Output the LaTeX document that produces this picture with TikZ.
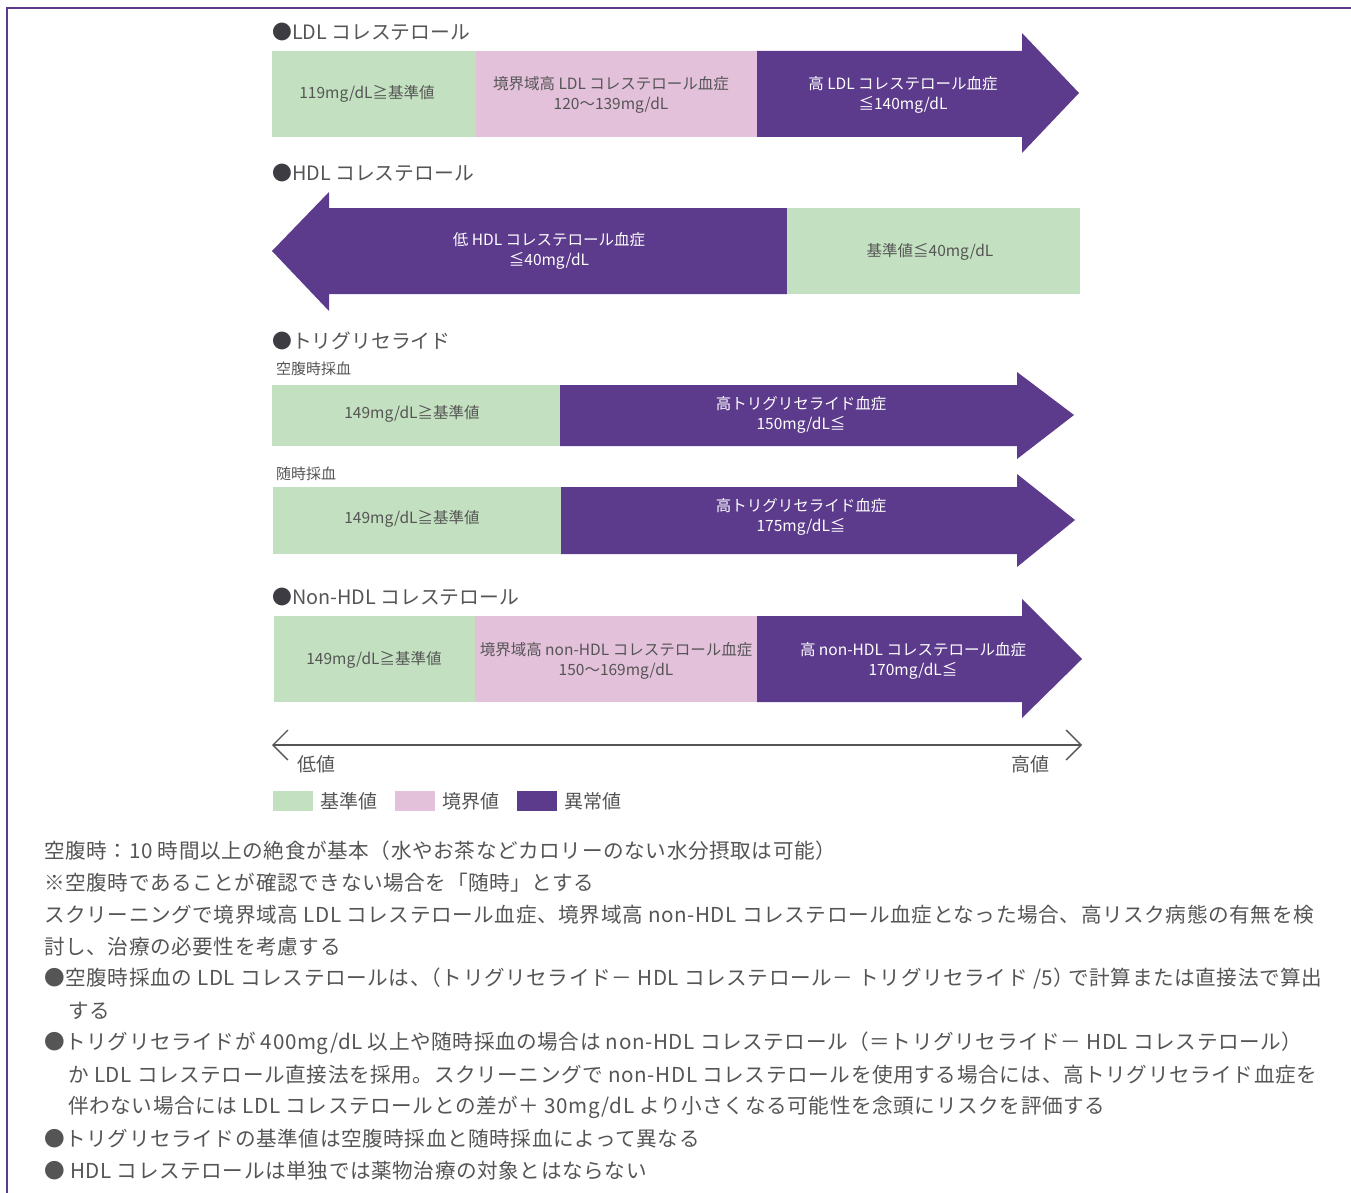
\documentclass[tikz,border=0pt]{standalone}
\usepackage{fontspec}
\setmainfont{Noto Sans CJK JP}
\newfontfamily\bodyfont{Noto Sans CJK JP}[LetterSpace=3]
\usetikzlibrary{arrows.meta}
\definecolor{okc}{HTML}{C3E1C0}
\definecolor{bdc}{HTML}{E3C1DB}
\definecolor{abc}{HTML}{5C3A8C}
\definecolor{txc}{HTML}{555555}
\definecolor{dotc}{HTML}{3C3C42}
\definecolor{framec}{HTML}{5C3A8C}
\tikzset{
  heading/.style={anchor=west, inner sep=0pt, text=txc, font=\fontsize{19.8}{23}\selectfont},
  sublabel/.style={anchor=west, inner sep=0pt, text=txc, font=\fontsize{15}{18}\selectfont},
  bartext/.style={align=center, inner sep=0pt, text=txc, font=\fontsize{15.5}{20.5}\selectfont},
  bartextw/.style={bartext, text=white},
  legendtext/.style={anchor=west, inner sep=0pt, text=txc, font=\fontsize{19}{22}\selectfont},
  bodyline/.style={anchor=west, inner sep=0pt, text=txc, font=\bodyfont\fontsize{20.6}{24}\selectfont},
  axisline/.style={draw=txc, line width=1.3pt, {Straight Barb[length=15pt,width=30pt]}-{Straight Barb[length=15pt,width=30pt]}},
}
\newcommand{\dotb}{\textcolor{dotc}{●}}
\begin{document}
\begin{tikzpicture}[x=1pt,y=-1pt]
\useasboundingbox (0,0) rectangle (1351,1193);
\draw[framec, line width=2pt] (7,1196) -- (7,8) -- (1354,8);

% LDL
\node[heading] (hldl) at (272,32) {\dotb LDL コレステロール};
\fill[okc] (272,51) rectangle (476,137);
\fill[bdc] (476,51) rectangle (757,137);
\fill[abc] (757,51) -- (1022,51) -- (1022,33) -- (1079,93) -- (1022,153) -- (1022,137) -- (757,137) -- cycle;
\node[bartext] (ldl1) at (367,94) {119mg/dL≧基準値};
\node[bartext] (ldl2) at (611,95) {境界域高 LDL コレステロール血症\\120～139mg/dL};
\node[bartextw] (ldl3) at (903,95) {高 LDL コレステロール血症\\≦140mg/dL};

% HDL
\node[heading] (hhdl) at (272,173) {\dotb HDL コレステロール};
\fill[abc] (272,251) -- (329,192) -- (329,208) -- (787,208) -- (787,294) -- (329,294) -- (329,311) -- cycle;
\fill[okc] (787,208) rectangle (1080,294);
\node[bartextw] (hdl1) at (549,251) {低 HDL コレステロール血症\\≦40mg/dL};
\node[bartext] (hdl2) at (930,252) {基準値≦40mg/dL};

% TG
\node[heading] (htg) at (272,341) {\dotb トリグリセライド};
\node[sublabel] (fast) at (276,369) {空腹時採血};
\fill[okc] (272,385) rectangle (560,446);
\fill[abc] (560,385) -- (1017,385) -- (1017,372) -- (1074,415) -- (1017,459) -- (1017,446) -- (560,446) -- cycle;
\node[bartext] (tg1) at (412,414) {149mg/dL≧基準値};
\node[bartextw] (tg2) at (801,415) {高トリグリセライド血症\\150mg/dL≦};
\node[sublabel] (rand) at (276,474) {随時採血};
\fill[okc] (273,487) rectangle (561,554);
\fill[abc] (561,487) -- (1017,487) -- (1017,474) -- (1075,520) -- (1017,567) -- (1017,554) -- (561,554) -- cycle;
\node[bartext] (tg3) at (412,519) {149mg/dL≧基準値};
\node[bartextw] (tg4) at (801,517) {高トリグリセライド血症\\175mg/dL≦};

% non-HDL
\node[heading] (hnon) at (272,597) {\dotb Non-HDL コレステロール};
\fill[okc] (274,616) rectangle (475,702);
\fill[bdc] (475,616) rectangle (757,702);
\fill[abc] (757,616) -- (1022,616) -- (1022,599) -- (1082,659) -- (1022,718) -- (1022,702) -- (757,702) -- cycle;
\node[bartext] (non1) at (374,660) {149mg/dL≧基準値};
\node[bartext] (non2) at (616,661) {境界域高 non-HDL コレステロール血症\\150～169mg/dL};
\node[bartextw] (non3) at (913,661) {高 non-HDL コレステロール血症\\170mg/dL≦};

% axis
\coordinate (lo) at (272,745);
\coordinate (hi) at (1082,745);
\draw[axisline] (lo) -- (hi);
\node[legendtext] (low) at (297,764) {低値};
\node[legendtext] (high) at (1011,764) {高値};

% legend
\fill[okc] (273,791) rectangle (313,811);
\node[legendtext] (l1) at (320,801) {基準値};
\fill[bdc] (395,791) rectangle (435,811);
\node[legendtext] (l2) at (442,801) {境界値};
\fill[abc] (517,791) rectangle (557,811);
\node[legendtext] (l3) at (564,801) {異常値};

% notes
\node[bodyline] (b1) at (44,851) {空腹時：10 時間以上の絶食が基本（水やお茶などカロリーのない水分摂取は可能）};
\node[bodyline] (b2) at (44,883) {※空腹時であることが確認できない場合を「随時」とする};
\node[bodyline] (b3) at (44,915) {スクリーニングで境界域高 LDL コレステロール血症、境界域高 non-HDL コレステロール血症となった場合、高リスク病態の有無を検};
\node[bodyline] (b4) at (44,947) {討し、治療の必要性を考慮する};
\node[bodyline] (b5) at (44,979) {●空腹時採血の LDL コレステロールは、\kern-10pt（トリグリセライド－ HDL コレステロール－ トリグリセライド /5）\kern-6pt で計算または直接法で算出};
\node[bodyline] (b6) at (68,1011) {する};
\node[bodyline] (b7) at (44,1043) {●トリグリセライドが 400mg/dL 以上や随時採血の場合は non-HDL コレステロール（＝トリグリセライド－ HDL コレステロール）};
\node[bodyline] (b8) at (68,1075) {か LDL コレステロール直接法を採用。スクリーニングで non-HDL コレステロールを使用する場合には、高トリグリセライド血症を};
\node[bodyline] (b9) at (68,1107) {伴わない場合には LDL コレステロールとの差が＋ 30mg/dL より小さくなる可能性を念頭にリスクを評価する};
\node[bodyline] (b10) at (44,1139) {●トリグリセライドの基準値は空腹時採血と随時採血によって異なる};
\node[bodyline] (b11) at (44,1171) {● HDL コレステロールは単独では薬物治療の対象とはならない};
\end{tikzpicture}
\end{document}
